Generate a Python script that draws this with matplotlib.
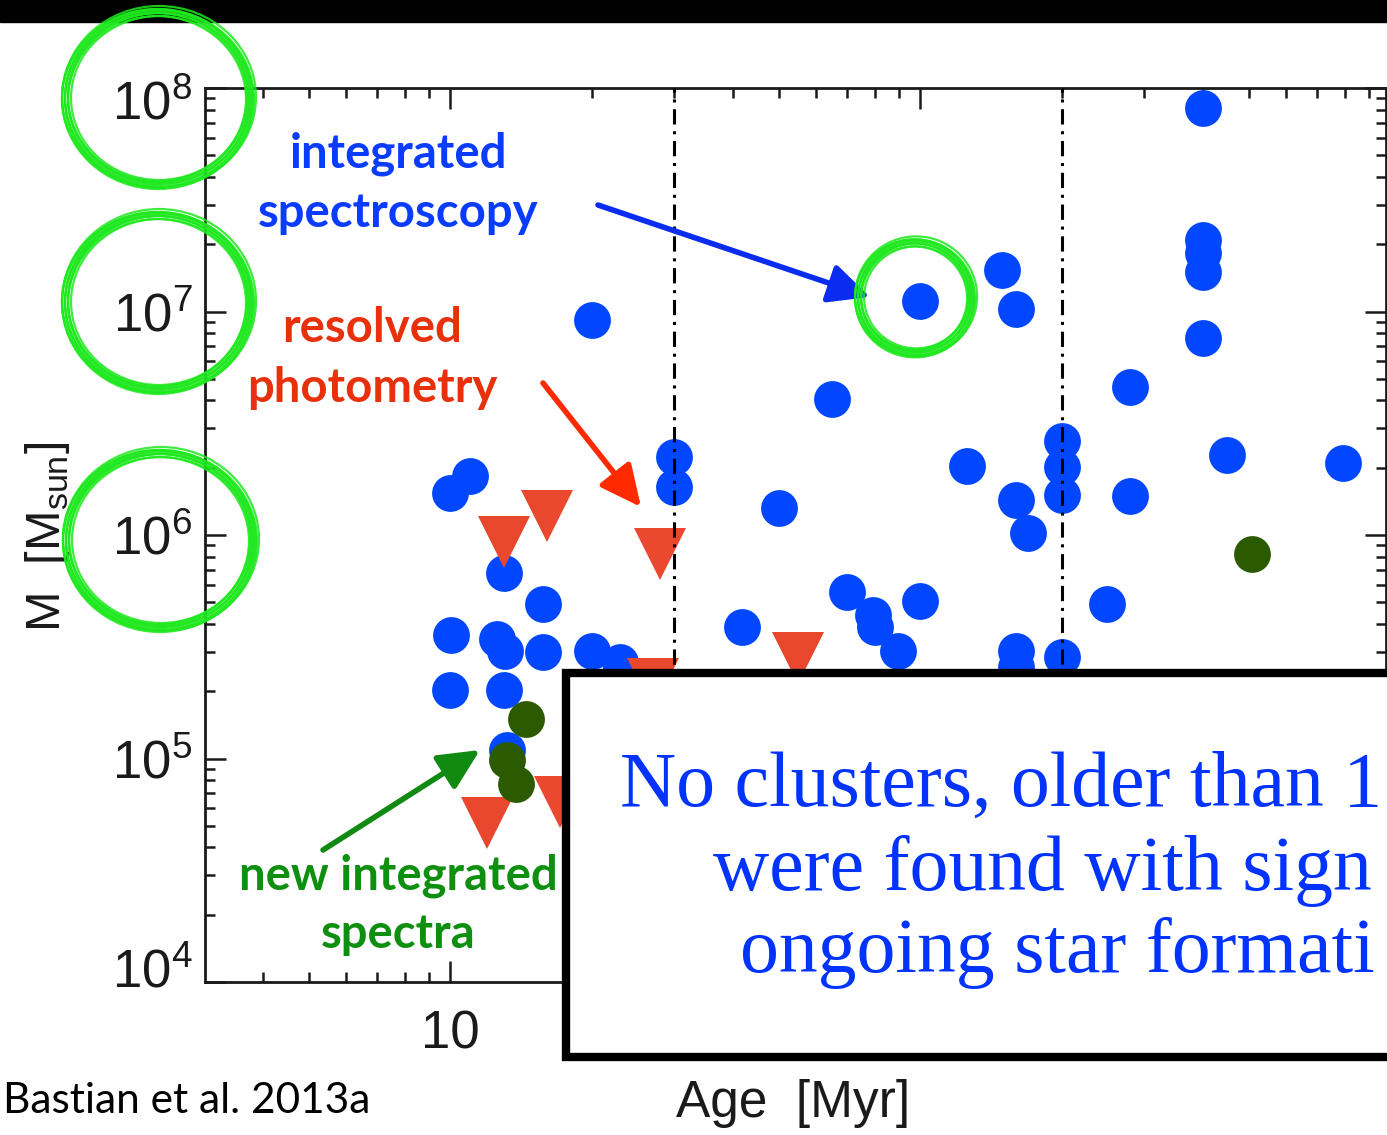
import matplotlib

matplotlib.use("Agg")
import matplotlib.pyplot as plt
import matplotlib.transforms as mtransforms
import numpy as np
from matplotlib.patches import Ellipse, FancyArrowPatch, Rectangle
from matplotlib.ticker import FixedLocator, FuncFormatter, LogLocator, NullFormatter

W, H = 1387, 1135

# cluster ages [Myr] and masses [Msun]
spec_age = [20.0, 10.0, 11.0, 13.0, 15.8, 10.05, 12.6, 13.1, 15.8, 20.0, 23.0, 10.0, 13.0,
            13.2, 30.0, 30.0, 65.0, 100.0, 149.0, 160.0, 50.2, 41.8, 70.0, 79.4, 80.2, 100.0,
            89.8, 126.0, 200.0, 200.0, 200.0, 160.0, 170.0, 160.0, 160.0, 200.0, 250.0,
            280.0, 280.0, 400.0, 400.0, 400.0, 400.0, 400.0, 450.0, 795.0]
spec_mass = [9.16e6, 1.54e6, 1.84e6, 6.76e5, 4.91e5, 3.57e5, 3.43e5, 3.03e5, 3.0e5, 3.03e5,
             2.70e5, 2.02e5, 2.02e5, 1.09e5, 2.23e6, 1.64e6, 4.06e6, 1.11e7, 1.53e7, 1.03e7,
             1.32e6, 3.88e5, 5.56e5, 4.39e5, 3.88e5, 5.07e5, 3.03e5, 2.04e6, 2.63e6, 2.02e6,
             1.51e6, 1.43e6, 1.02e6, 3.03e5, 2.57e5, 2.85e5, 4.91e5, 4.59e6, 1.49e6, 8.15e7,
             2.09e7, 1.83e7, 1.50e7, 7.61e6, 2.28e6, 2.10e6]
phot_age = [13.0, 16.1, 28.0, 55.0, 27.0, 12.0, 17.1]
phot_mass = [9.3e5, 1.22e6, 8.2e5, 2.83e5, 2.15e5, 5.14e4, 6.39e4]
new_age = [14.5, 13.2, 13.8, 508.0]
new_mass = [1.50e5, 9.85e4, 7.69e4, 8.2e5]
circled = (100.0, 1.11e7)

bin_edges = [30, 200]
xlim = (3.01, 980.0)
ylim = (1e4, 1e8)
ytick_vals = [1e4, 1e5, 1e6, 1e7, 1e8]
xtick_vals = [10, 100, 1000]

# the slide crops the box text at its right edge
box_lines = ["No clusters, older than 1", "were found with sign", "ongoing star formati"]

BLUE = "#0047ff"
RED = "#e9472e"
DKGREEN = "#2b5a00"
RING = "#1ee81e"
INK = "#1a1a1a"

plt.rcParams["font.family"] = ["Liberation Sans", "DejaVu Sans"]
plt.rcParams["mathtext.fontset"] = "custom"
plt.rcParams["mathtext.rm"] = "Liberation Sans"


def fx(x):
    return x / W


def fy(y):
    return 1 - y / H


fig = plt.figure(figsize=(W / 100, H / 100), dpi=100)
ax = fig.add_axes([fx(205), fy(982), (1386 - 205) / W, (982 - 88) / H])
ax.set_xscale("log")
ax.set_yscale("log")
ax.set_xlim(xlim)
ax.set_ylim(ylim)

for e in bin_edges:
    ax.axvline(e, color="black", lw=2.2, dashes=(5, 2.2, 1, 2.2), zorder=4)

ax.plot(spec_age, spec_mass, "o", ms=26.5, color=BLUE, mew=0, zorder=2)
ax.plot(phot_age, phot_mass, "v", ms=38, color=RED, mew=0, zorder=2.5)
ax.plot(new_age, new_mass, "o", ms=26.5, color=DKGREEN, mew=0, zorder=3)

ax.yaxis.set_major_locator(FixedLocator(ytick_vals))
ax.yaxis.set_minor_locator(LogLocator(base=10, subs=np.arange(2, 10)))
ax.yaxis.set_major_formatter(FuncFormatter(lambda v, p: r"$\mathregular{10^{%d}}$" % round(np.log10(v))))
ax.yaxis.set_minor_formatter(NullFormatter())
ax.xaxis.set_major_locator(FixedLocator(xtick_vals))
ax.xaxis.set_minor_locator(LogLocator(base=10, subs=np.arange(2, 10)))
ax.xaxis.set_major_formatter(FuncFormatter(lambda v, p: f"{v:g}"))
ax.xaxis.set_minor_formatter(NullFormatter())

ax.tick_params(which="both", direction="in", top=True, right=True, width=1.8, colors=INK)
ax.tick_params(which="major", length=15, labelsize=38)
ax.tick_params(which="minor", length=7.5)
ax.tick_params(axis="x", which="major", pad=20)
ax.tick_params(axis="y", which="major", pad=9)
for s in ax.spines.values():
    s.set_linewidth(2.0)
    s.set_color(INK)

ax.set_xlabel("Age  [Myr]", fontsize=37, color=INK)
ax.xaxis.set_label_coords(0.498, -0.108)
ax.set_ylabel(r"M  [M$_{\mathregular{sun}}$]", fontsize=35, color=INK)
ax.yaxis.set_label_coords(-0.1126, 0.498)

# IDL keeps the end labels inside the axis range
fig.canvas.draw()
yticks = ax.yaxis.get_major_ticks()
for t, dy in [(yticks[0], 14), (yticks[-1], -12)]:
    t.label1.set_transform(t.label1.get_transform()
                           + mtransforms.ScaledTranslation(0, dy / 100, fig.dpi_scale_trans))

# black strip at the top
fig.add_artist(Rectangle((0, fy(22)), 1, 22 / H, transform=fig.transFigure,
                         color="black", zorder=0.5))

# annotation texts
ann = dict(family=["Lato", "DejaVu Sans"], weight="bold", fontsize=34, ha="center", va="baseline")
fig.text(fx(398), fy(167), "integrated", color="#0a3cff", **ann)
fig.text(fx(398), fy(227), "spectroscopy", color="#0a3cff", **ann)
fig.text(fx(372), fy(342), "resolved", color="#e8300a", **ann)
fig.text(fx(372), fy(402), "photometry", color="#e8300a", **ann)
fig.text(fx(398), fy(890), "new integrated", color="#0f8f0f", **ann)
fig.text(fx(398), fy(948), "spectra", color="#0f8f0f", **ann)

fig.text(fx(3), fy(1113), "Bastian et al. 2013a", family=["Lato", "DejaVu Sans"],
         fontsize=30.5, color="black", va="baseline")

# arrows
for (x0, y0), (x1, y1), c in [((598, 205), (870, 297), "#0a2cf0"),
                              ((543, 383), (641, 507), "#ff2a00"),
                              ((323, 850), (480, 750), "#108a10")]:
    fig.add_artist(FancyArrowPatch((fx(x0), fy(y0)), (fx(x1), fy(y1)), transform=fig.transFigure,
                                   arrowstyle="-|>,head_length=1.25,head_width=0.6",
                                   mutation_scale=20, lw=4.0, color=c, shrinkA=0, shrinkB=0,
                                   zorder=6))

# hand-drawn green rings
cx_pt, cy_pt = ax.transData.transform(circled)
rings = [(158, 98, 93, 87), (158, 302, 93, 88), (160, 540, 94, 88),
         (cx_pt - 5, H - cy_pt - 4, 57, 56)]
offs = [(-5, 1, 0), (-4, -1, 1), (-3, 0, -1), (-2, 1, 0), (-1, -1, 1), (0, 0, -1),
        (1, 1, 1), (2, -1, 0), (3, 0, 1), (4, 1, -1)]
for cx, cy, rx, ry in rings:
    for dr, dx, dy in offs:
        fig.add_artist(Ellipse((fx(cx + dx), fy(cy + dy)), 2 * (rx + dr) / W, 2 * (ry + dr) / H,
                               transform=fig.transFigure, fill=False, ec=RING, lw=1.6,
                               alpha=0.85, zorder=7))

# boxed statement
fig.add_artist(Rectangle((fx(566), fy(1057)), (1420 - 566) / W, (1057 - 673) / H,
                         transform=fig.transFigure, fc="white", ec="black", lw=6, zorder=8))
for txt, x0, yb in zip(box_lines, [620, 713, 740], [806, 890, 972]):
    fig.text(fx(x0), fy(yb), txt, family=["Liberation Serif", "DejaVu Serif"], fontsize=56,
             color="#0033ff", va="baseline", zorder=9)

fig.savefig("out.png", dpi=100)
